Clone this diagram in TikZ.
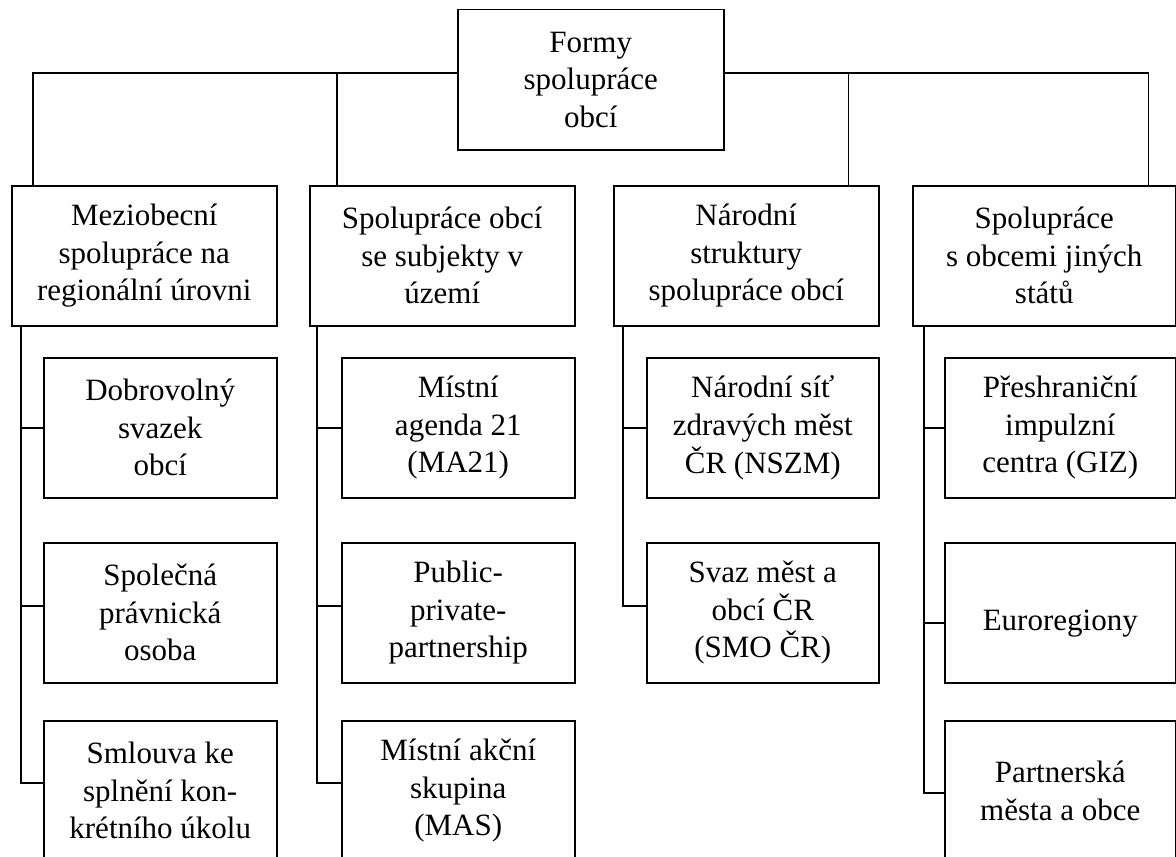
\documentclass[tikz,border=0pt]{standalone}
\usepackage{fontspec}
\setmainfont{Liberation Serif}
\usepackage{tikz}
\usetikzlibrary{positioning}
\usetikzlibrary{calc}

\begin{document}
\begin{tikzpicture}[
                x = 0.5pt,
                y = -0.5pt,
                box/.style = {
                    draw,
                    rectangle,
                    anchor = north west,
                    align = center,
                    minimum width = #1,
                    minimum height = 70pt,
                    inner sep = 0pt,
                    line width = 0.75pt,
                    font = \fontsize{15.5}{18.8}\selectfont
                },
                box/.default = 116.5pt,
                link/.style = {line width = 0.75pt}
            ]

            \clip (0,0) rectangle (1176,856);

            \node[box=133pt] (F) at (457,9) {Formy\\spolupráce\\obcí};

            \node[box=132.5pt] (M) at (11,185) {Meziobecní\\spolupráce na\\regionální úrovni};
            \node[box=132.5pt] (S) at (309,185) {Spolupráce obcí\\se subjekty v\\území};
            \node[box=132.5pt] (N) at (613,185) {Národní\\struktury\\spolupráce obcí};
            \node[box=131.5pt] (Z) at (912,185) {Spolupráce\\s obcemi jiných\\států};

            \node[box] (M1) at (43,357) {Dobrovolný\\svazek\\obcí};
            \node[box] (M2) at (43,542) {Společná\\právnická\\osoba};
            \node[box] (M3) at (43,720) {Smlouva ke\\splnění kon-\\krétního úkolu};

            \node[box] (S1) at (341,357) {Místní\\agenda 21\\(MA21)};
            \node[box] (S2) at (341,542) {Public-\\private-\\partnership};
            \node[box] (S3) at (341,720) {Místní akční\\skupina\\(MAS)};

            \node[box=116pt] (N1) at (646,357) {Národní síť\\zdravých měst\\ČR (NSZM)};
            \node[box=116pt] (N2) at (646,542) {Svaz měst a\\obcí ČR\\(SMO ČR)};

            \node[box=115.5pt] (Z1) at (944,357) {Přeshraniční\\impulzní\\centra (GIZ)};
            \node[box=115.5pt] (Z2) at (944,542) {\raisebox{-5.5pt}[\height][\depth]{Euroregiony}};
            \node[box=115.5pt] (Z3) at (944,720) {Partnerská\\města a obce};

            % bus from the root
            \coordinate (bus) at (0,73);
            \draw[link] (F.west |- bus) -| ($(M.north west)+(22,0)$);
            \draw[link] (F.west |- bus) -| ($(S.north west)+(28,0)$);
            \draw[link] (F.east |- bus) -| ($(N.north east)+(-31,0)$);
            \draw[link] (F.east |- bus) -| ($(Z.north east)+(-28,0)$);

            \draw[link] ($(M.south west)+(10,0)$) |- ($(M3.north west)+(0,63)$);
            \draw[link] ($(M1.west)+(-22,0)$) -- (M1.west);
            \draw[link] ($(M2.north west)+(-22,64)$) -- ++(22,0);

            \draw[link] ($(S.south west)+(8,0)$) |- ($(S3.north west)+(0,63)$);
            \draw[link] ($(S1.west)+(-24,0)$) -- (S1.west);
            \draw[link] ($(S2.north west)+(-24,64)$) -- ++(24,0);

            \draw[link] ($(N.south west)+(10,0)$) |- ($(N2.north west)+(0,64)$);
            \draw[link] ($(N1.west)+(-23,0)$) -- (N1.west);

            \draw[link] ($(Z.south west)+(12,0)$) |- ($(Z3.north west)+(0,73)$);
            \draw[link] ($(Z1.west)+(-20,0)$) -- (Z1.west);
            \draw[link] ($(Z2.north west)+(-20,81)$) -- ++(20,0);

         \end{tikzpicture}
\end{document}
